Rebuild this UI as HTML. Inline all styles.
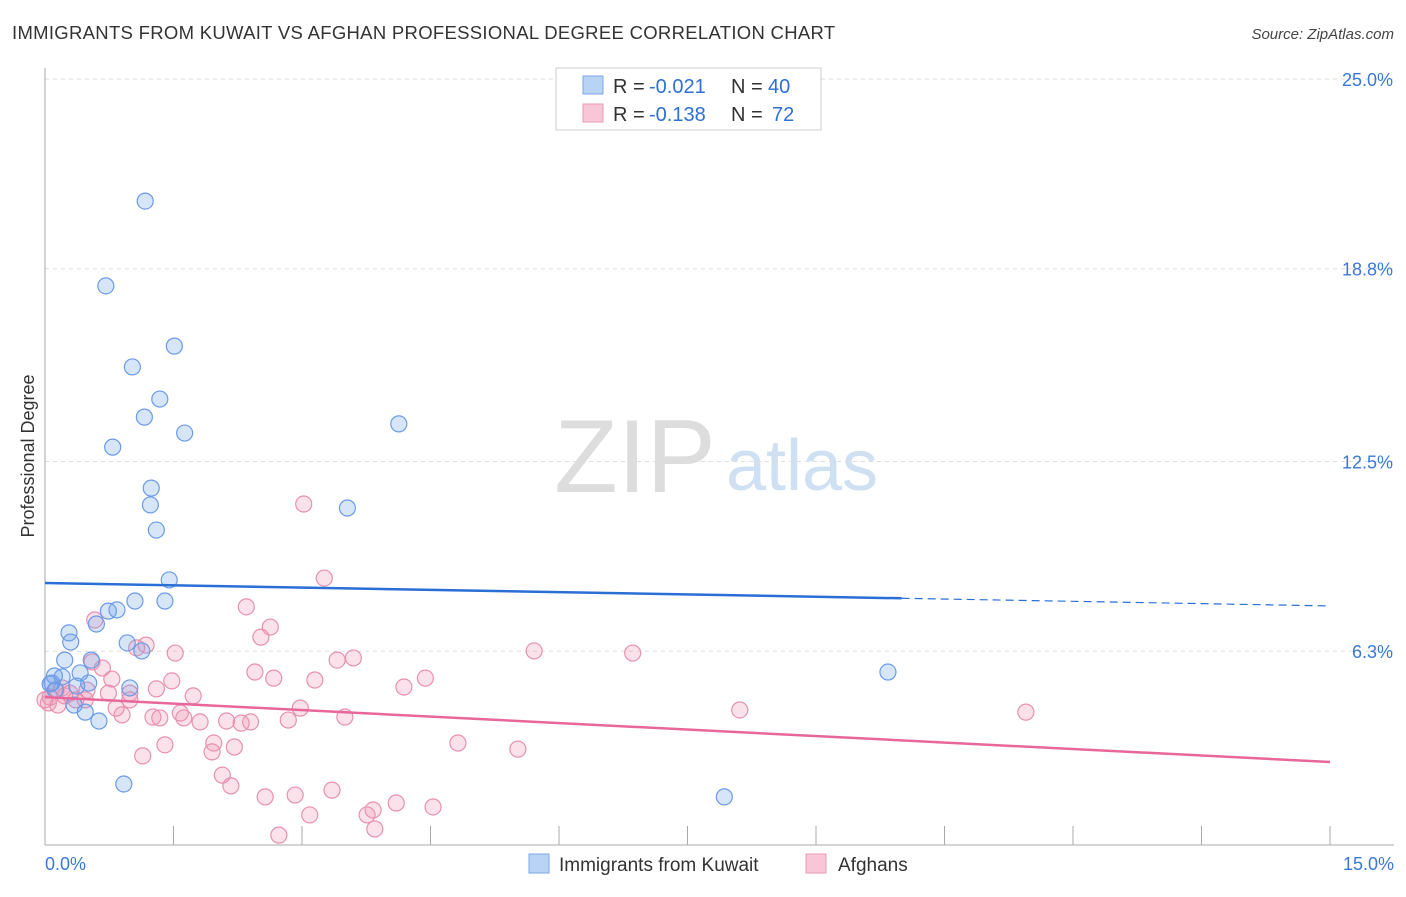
<!DOCTYPE html>
<html><head><meta charset="utf-8"><style>
body{margin:0;background:#fff;font-family:"Liberation Sans",sans-serif}
svg text{font-family:"Liberation Sans",sans-serif}
</style></head><body>
<svg id="chart" width="1406" height="892" viewBox="0 0 1406 892">
<text x="12" y="39" font-size="18.5" letter-spacing="0.3" fill="#333">IMMIGRANTS FROM KUWAIT VS AFGHAN PROFESSIONAL DEGREE CORRELATION CHART</text>
<text x="1394" y="39" font-size="15" fill="#444" font-style="italic" text-anchor="end">Source: ZipAtlas.com</text>
<g>
<text x="635" y="492" font-size="104" fill="#ddd" font-family="Liberation Serif,serif" text-anchor="middle">ZIP</text>
<text x="802" y="490" font-size="72" fill="#cfe0f3" text-anchor="middle">atlas</text>
</g>
<g id="grid"></g>
<g id="axes"></g>
<g id="marks"></g>
<g>
<rect x="556" y="68" width="265" height="62" fill="#fff" stroke="#ccc"/>
<rect x="583" y="76" width="20" height="18" fill="#b9d3f5" stroke="#7aa7e8"/>
<rect x="583" y="104" width="20" height="18" fill="#f8c6d6" stroke="#e79ab5"/>
<text x="613" y="93" font-size="20" fill="#333">R =</text>
<text x="649" y="93" font-size="20" fill="#2f6fd6">-0.021</text>
<text x="731" y="93" font-size="20" fill="#333">N =</text>
<text x="768" y="93" font-size="20" fill="#2f6fd6">40</text>
<text x="613" y="121" font-size="20" fill="#333">R =</text>
<text x="649" y="121" font-size="20" fill="#2f6fd6">-0.138</text>
<text x="731" y="121" font-size="20" fill="#333">N =</text>
<text x="772" y="121" font-size="20" fill="#2f6fd6">72</text>
</g>
<text transform="translate(34,456) rotate(-90)" font-size="18" fill="#333" text-anchor="middle">Professional Degree</text>
<g>
<rect x="529" y="854" width="20" height="19" fill="#b9d3f5" stroke="#7aa7e8"/>
<text x="559" y="871" font-size="19" fill="#333">Immigrants from Kuwait</text>
<rect x="806" y="854" width="20" height="19" fill="#f8c6d6" stroke="#e79ab5"/>
<text x="838" y="871" font-size="19" fill="#333">Afghans</text>
</g>
</svg>
<script>
const yTicks=[25.0,18.8,12.5,6.3];
const yTickLabels=["25.0%","18.8%","12.5%","6.3%"];
const xTicks=[0,1.5,3,4.5,6,7.5,9,10.5,12,13.5,15];
const kuwaitX=[1.17,0.71,1.51,1.02,1.34,1.16,1.63,0.79,1.24,1.23,1.30,4.13,3.53,1.45,1.05,1.40,0.74,0.84,0.60,0.28,0.30,0.96,1.13,0.23,0.54,0.11,0.20,0.41,0.08,0.51,0.99,0.37,0.12,0.34,0.47,0.63,0.92,9.84,7.93,0.06];
const kuwaitY=[21.01,18.24,16.27,15.59,14.54,13.95,13.43,12.97,11.63,11.08,10.26,13.73,10.98,8.63,7.94,7.94,7.61,7.65,7.19,6.90,6.60,6.57,6.31,6.01,6.01,5.49,5.46,5.59,5.26,5.26,5.10,5.16,5.03,4.54,4.31,4.02,1.96,5.62,1.54,5.23];
const afghanX=[3.02,3.26,2.35,2.63,2.52,1.18,1.07,1.52,0.58,0.55,0.67,0.78,0.13,0.20,0.06,0.04,0.29,0.49,0.74,0.99,1.30,1.48,1.73,1.58,0.90,1.26,1.34,1.62,1.81,2.12,2.29,2.40,2.84,2.98,3.50,2.45,2.67,3.15,3.41,3.60,4.19,4.44,5.71,6.86,8.11,11.45,1.40,1.97,2.21,1.14,1.95,4.82,5.52,2.07,2.17,2.57,2.92,3.35,3.09,3.76,3.83,4.10,4.53,3.85,2.73,0.83,0.47,0.23,0.36,0.15,0.00,0.99];
const afghanY=[11.11,8.69,7.75,7.09,6.76,6.50,6.41,6.24,7.32,5.95,5.75,5.39,5.03,5.10,4.80,4.61,4.93,5.03,4.93,4.93,5.07,5.33,4.84,4.28,4.22,4.15,4.12,4.12,3.99,4.02,3.95,3.99,4.05,4.44,4.15,5.62,5.42,5.36,6.01,6.08,5.13,5.42,6.31,6.24,4.38,4.31,3.24,3.30,3.17,2.88,3.01,3.30,3.10,2.25,1.90,1.54,1.60,1.76,0.95,0.95,1.11,1.34,1.21,0.49,0.29,4.44,4.71,4.84,4.71,4.54,4.71,4.71];
const kuwaitTrend=[8.53,7.78];
const afghanTrend=[4.80,2.68];
const kuwaitSolidEnd=10.0;

const X0=45,X1=1330,Y0=844,PXY=30.6;
function sx(v){return X0+(X1-X0)*v/15;}
function sy(v){return Y0-v*PXY;}
const NS="http://www.w3.org/2000/svg";
function mk(tag,attrs,parent){const e=document.createElementNS(NS,tag);for(const k in attrs)e.setAttribute(k,attrs[k]);parent.appendChild(e);return e;}
const grid=document.getElementById('grid'),axes=document.getElementById('axes'),marks=document.getElementById('marks');
yTicks.forEach((t,i)=>{
 const l=mk('line',{x1:45,x2:1394,y1:sy(t),y2:sy(t),stroke:'#ddd','stroke-dasharray':'4,4'},grid);
 
 
 const tx=mk('text',{x:1393,y:sy(t)+7,'font-size':18,fill:'#3a78d8','text-anchor':'end'},axes);
 tx.textContent=yTickLabels[i];
 
 
});
const ya=mk('line',{x1:45,x2:45,y1:68,y2:845,stroke:'#aaa'},axes);


const xa=mk('line',{x1:45,x2:1394,y1:845,y2:845,stroke:'#aaa'},axes);


xTicks.forEach(t=>{
 const l=mk('line',{x1:sx(t),x2:sx(t),y1:826,y2:845,stroke:'#aaa'},axes);
 
 
});
const xl0=mk('text',{x:45,y:870,'font-size':18,fill:'#3a78d8'},axes);xl0.textContent='0.0%';


const xl1=mk('text',{x:1394,y:870,'font-size':18,fill:'#3a78d8','text-anchor':'end'},axes);xl1.textContent='15.0%';



afghanX.forEach((x,i)=>{
 const c=mk('circle',{cx:sx(x),cy:sy(afghanY[i]),r:8,fill:'rgba(240,150,180,0.28)',stroke:'#e790b0','stroke-width':1.2},marks);
 
 
});
kuwaitX.forEach((x,i)=>{
 const c=mk('circle',{cx:sx(x),cy:sy(kuwaitY[i]),r:8,fill:'rgba(110,160,235,0.28)',stroke:'#6b9be6','stroke-width':1.2},marks);
 
 
});
function ty(tr,x){return tr[0]+(tr[1]-tr[0])*x/15;}
const kl=mk('line',{x1:sx(0),y1:sy(kuwaitTrend[0]),x2:sx(kuwaitSolidEnd),y2:sy(ty(kuwaitTrend,kuwaitSolidEnd)),stroke:'#2a6fd6','stroke-width':2.5},marks);


const kd=mk('line',{x1:sx(kuwaitSolidEnd),y1:sy(ty(kuwaitTrend,kuwaitSolidEnd)),x2:sx(15),y2:sy(kuwaitTrend[1]),stroke:'#2a6fd6','stroke-width':1.2,'stroke-dasharray':'8,5'},marks);


const al=mk('line',{x1:sx(0),y1:sy(afghanTrend[0]),x2:sx(15),y2:sy(afghanTrend[1]),stroke:'#e8679a','stroke-width':2.5},marks);


</script>
</body></html>
